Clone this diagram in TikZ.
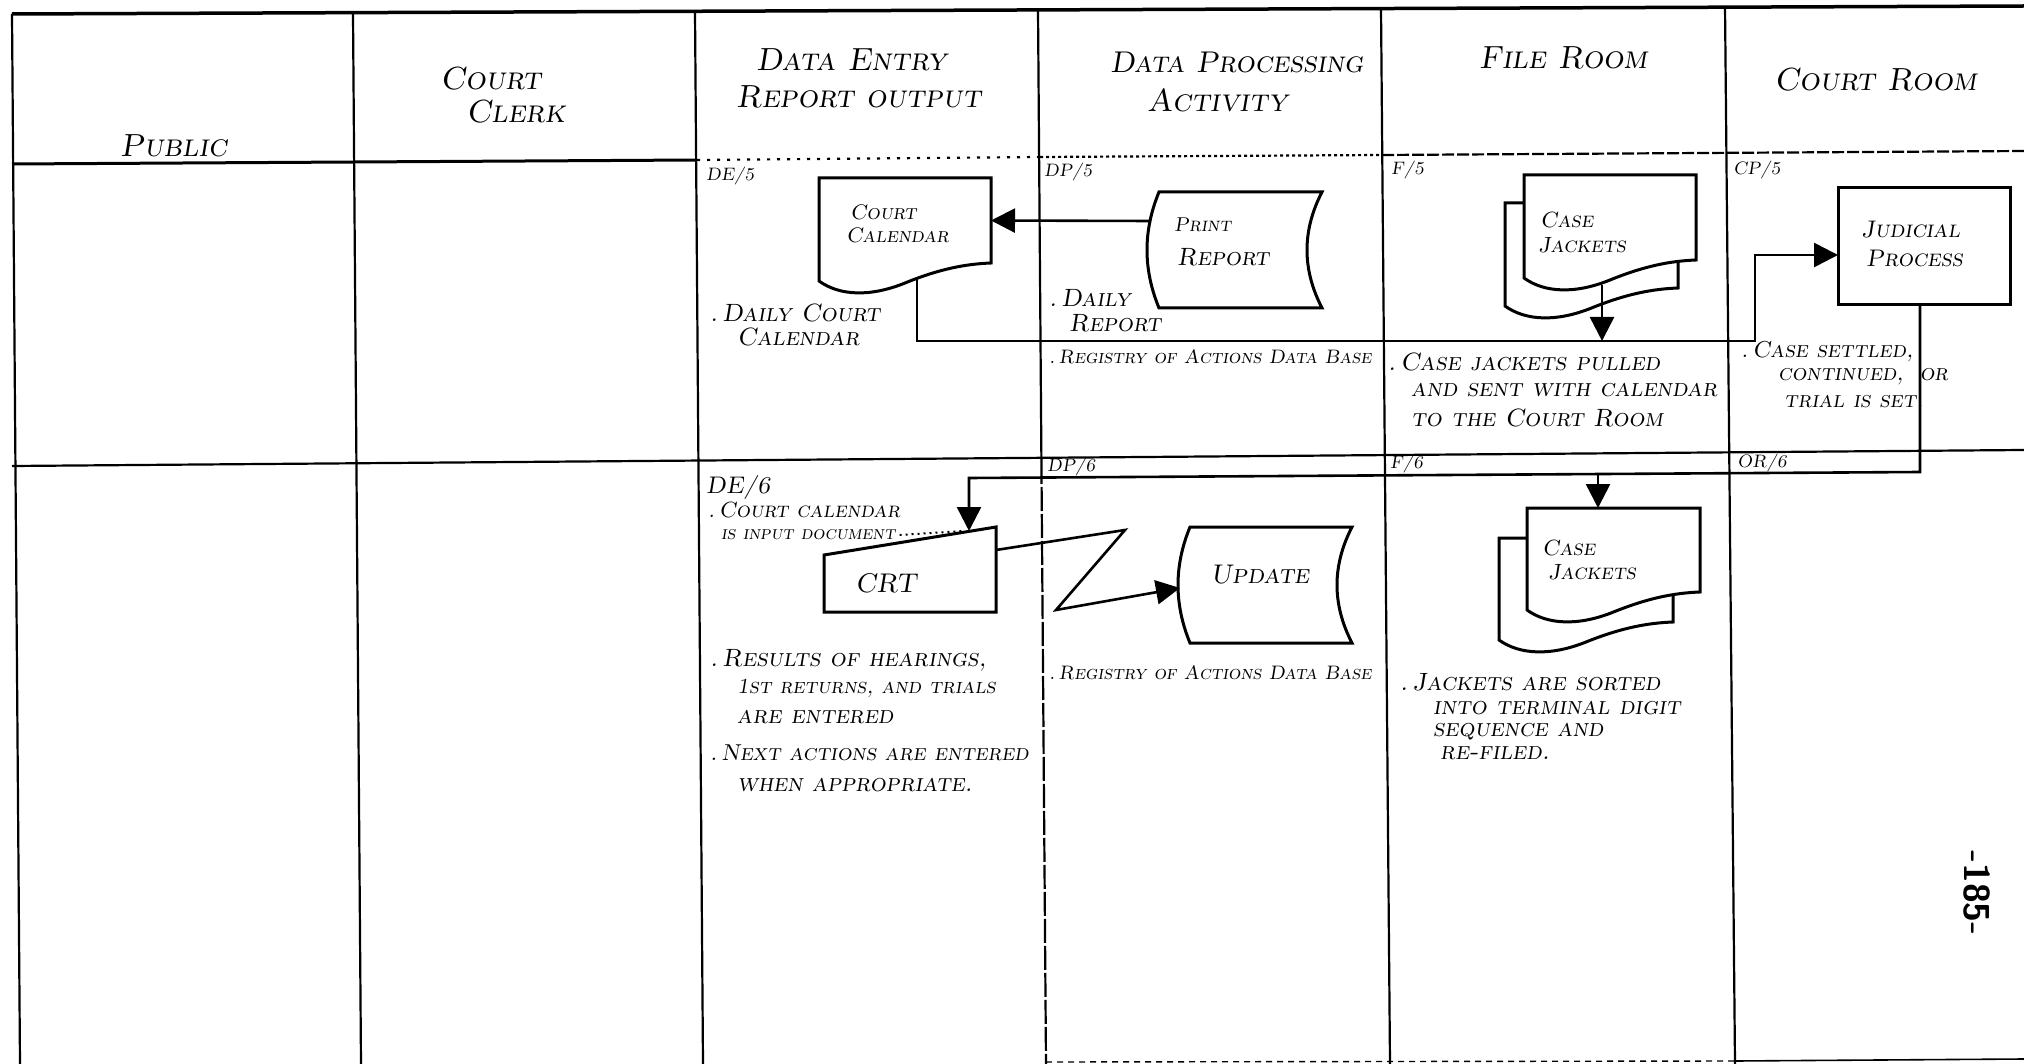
\documentclass[tikz,border=0pt]{standalone}
\usepackage{graphicx}
\usetikzlibrary{arrows.meta}
\newcommand\fs[1]{\fontsize{#1}{#1}\selectfont\scshape\slshape}
\tikzset{
  gridline/.style={line width=2.2pt},
  shp/.style={line width=3pt, fill=white, line join=miter},
  conn/.style={line width=2.6pt},
  arr/.style={conn, -{Triangle[length=24pt,width=24pt]}},
  lbl/.style={inner sep=0pt, anchor=west},
  hdr/.style={lbl, font=\fs{32}},
  tagl/.style={lbl, font=\fs{18}},
  body/.style={lbl, font=\fs{25}},
  small/.style={lbl, font=\fs{19.5}},
  geo/.style={inner sep=0pt, outer sep=0pt},
  pics/docshape/.style args={#1/#2}{code={
     \draw[shp] (0,0) -- (#1,0) -- (#1,#2)
       .. controls ({0.85*#1},{#2+1}) and ({0.7*#1},{#2+6}) .. ({0.5*#1},{#2+20})
       .. controls ({0.3*#1},{#2+34}) and ({0.12*#1},{#2+33}) .. (0,{#2+18}) -- cycle;}},
  pics/storeshape/.style args={#1/#2}{code={
     \draw[shp] (0,0) -- (#1,0)
       .. controls ({#1-20},{#2/3}) and ({#1-20},{2*#2/3}) .. (#1,#2) -- (0,#2)
       .. controls (-16,{2*#2/3}) and (-16,{#2/3}) .. (0,0) -- cycle;}},
  pics/manualshape/.style args={#1/#2/#3}{code={
     \draw[shp] (0,#3) -- (#1,0) -- (#1,#2) -- (0,#2) -- cycle;}},
}
\begin{document}
\begin{tikzpicture}[x=1pt,y=-1pt]
\useasboundingbox (0,0) rectangle (2024,1064);
\fill[white] (0,0) rectangle (2024,1064);

% ---------- grid ----------
\draw[gridline, line width=3.5pt] (12,14) -- (2024,6);
\draw[gridline] (12,14) -- (20,1064);
\draw[gridline] (353,14) -- (361,1064);
\draw[gridline] (695,12) -- (703,1064);
\draw[gridline] (1038,10) -- (1041.4,460);
\draw[gridline, dash pattern=on 24pt off 3pt] (1041.4,460) -- (1046,1064);
\draw[gridline] (1381,8) -- (1390,1064);
\draw[gridline] (1725,6) -- (1735,1064);
\draw[gridline, line width=3pt] (12,164) -- (697,160);
\draw[gridline, dash pattern=on 3pt off 7pt] (697,160) -- (1040,157);
\draw[gridline, dash pattern=on 3pt off 3pt] (1040,157) -- (1382,155);
\draw[gridline, dash pattern=on 12pt off 3pt] (1382,155) -- (2024,151);
\draw[gridline] (12,466) -- (2024,450);
\draw[gridline, line width=1.4pt, dash pattern=on 6pt off 5pt] (1046,1062) -- (1735,1061);
\draw[gridline, line width=1.6pt] (1735,1061) -- (2024,1059);

% ---------- headers ----------
\node[hdr] (h1) at (120,146) {Public};
\node[hdr] (h2a) at (440,79) {Court};
\node[hdr] (h2b) at (466,112) {Clerk};
\node[hdr] (h3a) at (756,60) {Data Entry};
\node[hdr] (h3b) at (736,97) {Report output};
\node[lbl, font=\fs{30}] (h4a) at (1110,62) {Data Processing};
\node[hdr] (h4b) at (1147,100) {Activity};
\node[hdr] (h5) at (1479,58) {File Room};
\node[hdr] (h6) at (1774,80) {Court Room};

% ---------- tags ----------
\node[tagl] (t1) at (706,176) {DE/5};
\node[tagl] (t2) at (1044,172) {DP/5};
\node[tagl] (t3) at (1391,170) {F/5};
\node[tagl] (t4) at (1733,170) {CP/5};
\node[lbl, font=\fs{24}] (t5) at (706,487) {DE/6};
\node[tagl] (t6) at (1047,467) {DP/6};
\node[tagl] (t7) at (1390,464) {F/6};
\node[tagl] (t8) at (1737,463) {OR/6};

% ---------- shapes ----------
\pic at (819,178) {docshape=172/85};
\node[geo, minimum width=172pt, minimum height=85pt] (cc) at (905,220.5) {};
\pic at (1159,192) {storeshape=163/116};
\node[geo, minimum width=163pt, minimum height=116pt] (pr) at (1240.5,250) {};
\pic at (1505,203) {docshape=173/85};
\pic at (1524,175) {docshape=172/85};
\node[geo, minimum width=172pt, minimum height=85pt] (cj1) at (1610,217.5) {};
\node[geo, draw, line width=3pt, minimum width=172pt, minimum height=117pt] (jp) at (1924,246.5) {};
\pic at (824,527) {manualshape=172/85/28};
\node[geo, minimum width=172pt, minimum height=85pt] (crt) at (910,569.5) {};
\pic at (1190,527) {storeshape=162/116};
\node[geo, minimum width=162pt, minimum height=116pt] (upd) at (1271,585) {};
\pic at (1499,538) {docshape=174/84};
\pic at (1527,508) {docshape=173/84};
\node[geo, minimum width=173pt, minimum height=84pt] (cj2) at (1613.5,550) {};

% ---------- shape texts ----------
\node[lbl, font=\fs{21}] (cca) at (850,212) {Court};
\node[lbl, font=\fs{21}] (ccb) at (846,235) {Calendar};
\node[lbl, font=\fs{20}] (pra) at (1174,225) {Print};
\node[lbl, font=\fs{25}] (prb) at (1177,257) {Report};
\node[lbl, font=\fs{22}] (cj1a) at (1540,220) {Case};
\node[lbl, font=\fs{22}] (cj1b) at (1538,245) {Jackets};
\node[lbl, font=\fs{24}] (jpa) at (1861,230) {Judicial};
\node[lbl, font=\fs{24}] (jpb) at (1866,258) {Process};
\node[lbl, font=\fs{27}] (crtt) at (855,583) {CRT};
\node[lbl, font=\fs{27}] (updt) at (1210,575) {Update};
\node[lbl, font=\fs{22}] (cj2a) at (1542,548) {Case};
\node[lbl, font=\fs{22}] (cj2b) at (1548,572) {Jackets};

% ---------- notes ----------
\node[body] (n1a) at (710,313) {.\,Daily Court};
\node[body] (n1b) at (737,337) {Calendar};
\node[body] (n2a) at (1049,298) {.\,Daily};
\node[body] (n2b) at (1069,323) {Report};
\node[small] (n3) at (1049,357) {.\,Registry of Actions Data Base};
\node[body] (n4a) at (1388,362) {.\,Case jackets pulled};
\node[body] (n4b) at (1411,390) {and sent with calendar};
\node[body] (n4c) at (1411,418) {to the Court Room};
\node[lbl, font=\fs{23}] (n5a) at (1741,352) {.\,Case settled,};
\node[lbl, font=\fs{23}] (n5b) at (1778,377) {continued,\hspace{16pt}or};
\node[lbl, font=\fs{23}] (n5c) at (1784,402) {trial is set.};
\node[lbl, font=\fs{22}] (n6a) at (708,510) {.\,Court calendar};
\node[lbl, font=\fs{19}] (n6b) at (721,535) {is input document};
\node[body] (n7a) at (710,660) {.\,Results of hearings,};
\node[lbl, font=\fs{21.5}] (n7b) at (737,688) {1st returns, and trials};
\node[body] (n7c) at (737,717) {are entered};
\node[lbl, font=\fs{23}] (n8a) at (710,753) {.\,Next actions are entered};
\node[body] (n8b) at (737,785) {when appropriate.};
\node[small] (n9) at (1049,673) {.\,Registry of Actions Data Base};
\node[body] (n10a) at (1400,682) {.\,Jackets are sorted};
\node[body] (n10b) at (1433,708) {into terminal digit};
\node[body] (n10c) at (1433,732) {sequence and};
\node[body] (n10d) at (1440,753) {re-filed.};
\node[font=\fontsize{36}{36}\selectfont\sffamily\bfseries, rotate=-90, inner sep=0pt] (pg) at (1977,893) {-185-};

% ---------- connectors ----------
\coordinate (ccw) at (917,277);
\coordinate (cj1w) at (1602,285);
\coordinate (j1) at (1602,341);
\coordinate (b1) at (1920,472);
\coordinate (b2) at (969,478);
\coordinate (crtin) at (969,531);
\coordinate (j2) at (1598,474);
\coordinate (z1) at (1125,530);
\coordinate (z2) at (1056,610);

\draw[arr] ([shift={(-8,-29)}]pr.west) -- (cc.east);
\draw[arr] (ccw) |- (1755,341) |- ([shift={(0,8.5)}]jp.west);
\draw[arr] (cj1w) -- (j1);
\draw[arr] ([xshift=-4pt]jp.south) -- (b1) -- (b2) -- (crtin);
\draw[arr] (j2) -- ([xshift=-15.5pt]cj2.north);
\draw[arr] ([shift={(0,-19.5)}]crt.east) -- (z1) -- (z2) -- ([shift={(-10,3)}]upd.west);
\draw[line width=2pt, dash pattern=on 2pt off 4pt] ([xshift=4pt]n6b.east) -- ([xshift=-6pt]crtin);
\end{tikzpicture}
\end{document}
